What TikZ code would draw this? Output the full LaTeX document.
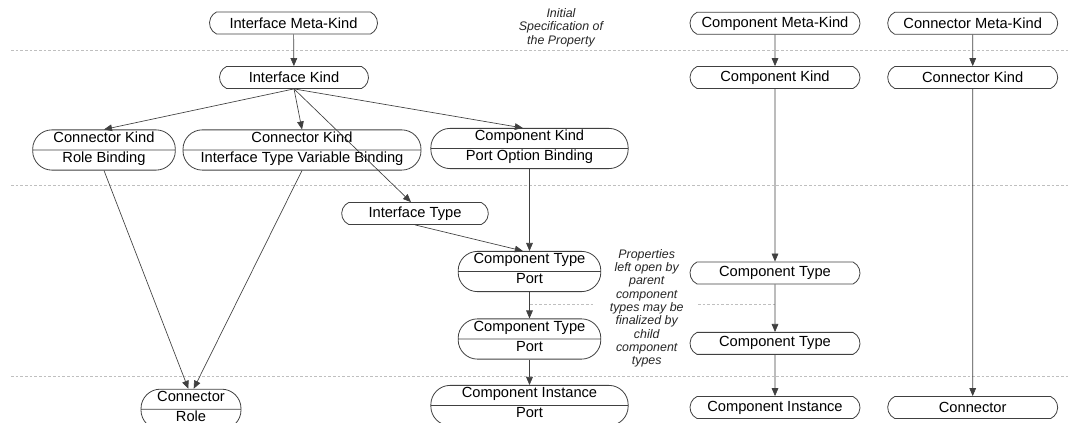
\documentclass[tikz,border=0pt]{standalone}
\usepackage{fontspec}
\setmainfont{Liberation Sans}
\usetikzlibrary{shapes.misc,shapes.multipart,arrows.meta}

\newcommand{\kindparts}[2]{#1\rule[-4.5pt]{0pt}{12.5pt}\nodepart{two}#2\rule[-4.5pt]{0pt}{12.5pt}}

\tikzset{every picture/.style={line width=0.6pt}}
\tikzset{
  kind/.style={rounded rectangle, rounded rectangle arc length=130, draw=black!75, minimum height=16.5pt, inner sep=0pt, font=\fontsize{11}{13}\selectfont},
  twokind/.style={rectangle split, rectangle split parts=2, draw=black!75, rounded corners=14.5pt, inner xsep=0pt, inner ysep=1pt, font=\fontsize{11}{13}\selectfont},
  lvl/.style={draw=black!25, dash pattern=on 2pt off 1.5pt, line width=0.4pt},
  note/.style={font=\fontsize{9.3}{10}\selectfont\itshape, align=center, inner ysep=0.75pt, text=black!85},
  flow/.style={draw=black!75, line width=0.5pt, -{Triangle[length=6pt,width=5pt]}},
}

\begin{document}
\begin{tikzpicture}[x=0.75pt,y=0.75pt,yscale=-1,xscale=1]
\useasboundingbox (0,0) rectangle (1068,423);

%Level lines
\draw[lvl] (11,50.5) -- (1068,50.5);
\draw[lvl] (11,185.5) -- (1068,185.5);
\draw[lvl] (11,376) -- (1068,376);
\draw[lvl] (530,304) -- (775,304);

% Text Node
\node[note] (initnote) at (561,27.5) {Initial\\Specification of\\the Property};
% Text Node
\node[note, fill=white, inner xsep=11pt] (opennote) at (646.7,308.3) {Properties\\left open by\\parent\\component\\types may be\\finalized by\\child\\component\\types};

%Interface column
\node[kind, minimum width=126pt] (imk) at (293.5,23) {Interface Meta-Kind};
\node[kind, minimum width=111.75pt] (ik) at (294,77.5) {Interface Kind};
\node[twokind, minimum width=107pt] (ckrb) at (104,150) {\kindparts{Connector Kind}{Role Binding}};
\node[twokind, minimum width=178.5pt] (ckitvb) at (302,150) {\kindparts{Connector Kind}{Interface Type Variable Binding}};
\node[twokind, minimum width=148pt] (cpkpob) at (529.5,148.5) {\kindparts{Component Kind}{Port Option Binding}};
\node[kind, minimum width=110pt] (it) at (415,213.5) {Interface Type};
\node[twokind, minimum width=107pt] (ctp1) at (529.5,271.5) {\kindparts{Component Type}{Port}};
\node[twokind, minimum width=107pt] (ctp2) at (529.5,339) {\kindparts{Component Type}{Port}};
\node[twokind, minimum width=148pt] (cip) at (529.5,405.5) {\kindparts{Component Instance}{Port}};
\node[twokind, minimum width=75pt] (cr) at (191,409.3) {\kindparts{Connector}{Role}};

%Component and connector columns
\node[kind, minimum width=127.5pt] (cmk) at (775,23.3) {Component Meta-Kind};
\node[kind, minimum width=127.5pt] (cnmk) at (972.7,23.3) {Connector Meta-Kind};
\node[kind, minimum width=127.5pt] (ck) at (775,77.5) {Component Kind};
\node[kind, minimum width=127.5pt] (cnk) at (972.7,77.5) {Connector Kind};
\node[kind, minimum width=127.5pt] (ct1) at (775,273) {Component Type};
\node[kind, minimum width=127.5pt] (ct2) at (775,343.4) {Component Type};
\node[kind, minimum width=127.5pt] (ci) at (775,407.5) {Component Instance};
\node[kind, minimum width=127.5pt] (cn) at (972.7,407.5) {Connector};

%Arrows
\draw[flow] (imk) -- (ik);
\draw[flow] (ik.south) -- (ckrb.north);
\draw[flow] (ik.south) -- (ckitvb.north);
\draw[flow] (ik.south) -- ([xshift=-5pt]cpkpob.north);
\draw[flow] (ik.south) -- ([xshift=-3pt]it.north);
\draw[flow] (it.south) -- ([xshift=-5pt]ctp1.north);
\draw[flow] (cpkpob) -- (ctp1);
\draw[flow] (ctp1) -- (ctp2);
\draw[flow] (ctp2) -- (cip);
\draw[flow] (ckrb.south) -- ([xshift=-2pt]cr.north);
\draw[flow] (ckitvb.south) -- ([xshift=2pt]cr.north);

\draw[flow] (cmk) -- (ck);
\draw[flow] (ck) -- (ct1);
\draw[flow] (ct1) -- (ct2);
\draw[flow] (ct2) -- (ci);
\draw[flow] (cnmk) -- (cnk);
\draw[flow] (cnk) -- (cn);

\end{tikzpicture}
\end{document}
